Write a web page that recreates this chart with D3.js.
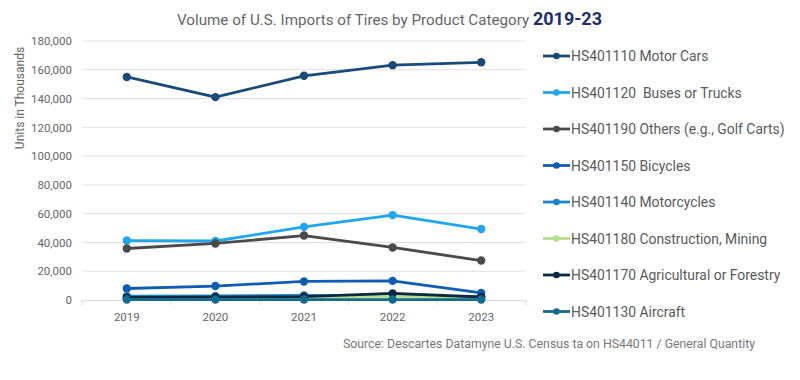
<!DOCTYPE html>
<html><head><meta charset="utf-8">
<script src="https://cdn.jsdelivr.net/npm/d3@7/dist/d3.min.js"></script>
<style>body{margin:0;background:#fff;font-family:Roboto,"Open Sans",sans-serif;}</style>
</head><body><svg id="c" width="800" height="380"></svg>
<script>
const years = ["2019","2020","2021","2022","2023"];
const seriesNames = ["HS401110 Motor Cars","HS401120  Buses or Trucks","HS401190 Others (e.g., Golf Carts)","HS401150 Bicycles","HS401140 Motorcycles","HS401180 Construction, Mining","HS401170 Agricultural or Forestry","HS401130 Aircraft"];
const motorCars    = [155000,141000,155800,163200,165200];
const buses        = [41300,41000,50800,59000,49300];
const others       = [35800,39300,44800,36500,27400];
const bicycles     = [8000,9700,12900,13300,4900];
const motorcycles  = [2600,2800,3200,2900,2200];
const construction = [1000,1100,1300,2600,1000];
const agricultural = [1800,2000,2400,4600,2100];
const aircraft     = [300,300,300,300,300];
const seriesValues = [motorCars,buses,others,bicycles,motorcycles,construction,agricultural,aircraft];
const colors = ["#1b4a78","#1fa6ee","#4a4a4a","#0e5cb4","#1c86c8","#b6df8c","#0d2843","#13698e"];
const yTicks = [0,20000,40000,60000,80000,100000,120000,140000,160000,180000];

const svg = d3.select("#c");
const x = d3.scaleBand().domain(years).range([82.5,525.5]);
const y = d3.scaleLinear().domain([0,180000]).range([300,41]);

// gridlines
svg.append("g").selectAll("line").data(yTicks.slice(1)).join("line")
  .attr("x1",82.5).attr("x2",525.5).attr("y1",d=>y(d)).attr("y2",d=>y(d))
  .attr("stroke","#e0e0e0").attr("stroke-width",1);

// y axis labels
const yAxis = svg.append("g").attr("transform","translate(82,0)")
  .call(d3.axisLeft(y).tickValues(yTicks).tickSize(0).tickPadding(10).tickFormat(d3.format(",")));
yAxis.select(".domain").remove();
yAxis.selectAll("text").attr("fill","#666").attr("font-size","11.5px").attr("font-family","Roboto, sans-serif");

// x axis
const xAxis = svg.append("g").attr("transform","translate(0,300)")
  .call(d3.axisBottom(x).tickSize(0).tickPadding(13));
xAxis.select(".domain").attr("stroke","#d9d9d9");
xAxis.selectAll("text").attr("fill","#666").attr("font-size","11.5px").attr("font-family","Roboto, sans-serif");
// band edge ticks
const edges = years.map(d=>x(d)).concat([x.range()[1]]);
svg.append("g").selectAll("line").data(edges).join("line")
  .attr("x1",d=>d).attr("x2",d=>d).attr("y1",300).attr("y2",305)
  .attr("stroke","#d9d9d9");

// y axis title
svg.append("text").attr("transform","translate(24,98) rotate(-90)")
  .attr("text-anchor","middle").attr("fill","#666").attr("font-size","12px")
  .text("Units in Thousands");

// lines
const line = d3.line().x((d,i)=>x(years[i])+x.bandwidth()/2).y(d=>y(d));
seriesValues.forEach((vals,k)=>{
  const g = svg.append("g");
  g.append("path").attr("d",line(vals)).attr("fill","none")
    .attr("stroke",colors[k]).attr("stroke-width",2.8).attr("stroke-linejoin","round");
  g.selectAll("circle").data(vals).join("circle")
    .attr("cx",(d,i)=>x(years[i])+x.bandwidth()/2).attr("cy",d=>y(d)).attr("r",4.2)
    .attr("fill",colors[k]);
});

// legend
const lg = svg.append("g");
seriesNames.forEach((n,k)=>{
  const yy = 56 + k*36.5;
  lg.append("line").attr("x1",543).attr("x2",570).attr("y1",yy).attr("y2",yy)
    .attr("stroke",colors[k]).attr("stroke-width",2.8);
  lg.append("circle").attr("cx",556.5).attr("cy",yy).attr("r",3.3).attr("fill",colors[k]);
  lg.append("text").attr("x",571).attr("y",yy+5).attr("fill","#5a5a5a")
    .attr("font-size","13.9px").attr("xml:space","preserve").style("white-space","pre").text(n);
});

// title (single text element with two runs)
const title = svg.append("text").attr("x",177).attr("y",25);
title.append("tspan").attr("fill","#666").attr("font-size","15.2px")
  .text("Volume of U.S. Imports of Tires by Product Category ");
title.append("tspan").attr("fill","#1b2f6e").attr("font-size","18px")
  .attr("font-weight","bold").text("2019-23");

// source
svg.append("text").attr("x",343).attr("y",348).attr("fill","#777").attr("font-size","12px")
  .attr("textLength",412).attr("lengthAdjust","spacingAndGlyphs")
  .text("Source: Descartes Datamyne U.S. Census ta on HS44011 / General Quantity");
</script></body></html>
